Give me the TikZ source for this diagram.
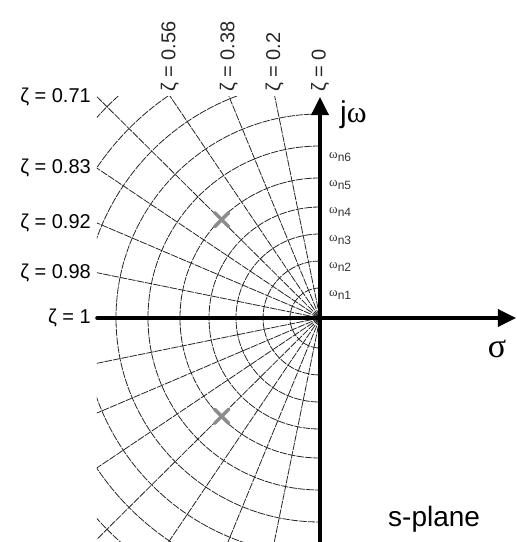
\documentclass[tikz,border=0pt]{standalone}
\usepackage{fontspec}
\setmainfont{Liberation Sans}
\newfontfamily\greekserif{Liberation Serif}
\usetikzlibrary{arrows.meta}
\tikzset{
  gridline/.style={line width=0.8pt,black!85,dash pattern=on 7pt off 1.5pt},
  axisline/.style={line width=3.5pt,-{Triangle[length=18pt,width=17pt]}},
  zetalabel/.style={font=\fontsize{20}{20}\selectfont,inner sep=2pt},
  wnlabel/.style={font=\fontsize{13}{13}\selectfont,text=black!80,anchor=west,inner sep=1pt},
  polemark/.style={line width=3.5pt,black!45}
}
\begin{document}
\begin{tikzpicture}[x=1pt,y=1pt,line cap=round,line join=round]
	\useasboundingbox (-320,-224) rectangle (197,318);
	% circles of constant omega_n, lines of constant zeta
	\begin{scope}
		\clip (-223,-224) rectangle (0,222);
		\foreach \r in {30,57,84,111,140,172,204,237,269,300}
			\draw[gridline] (0,\r) arc (90:270:\r);
		\foreach \z in {0.98,0.92,0.83,0.71,0.56,0.38,0.2}
			\draw[gridline] ({180-acos(\z)}:340) -- (0,0) -- ({180+acos(\z)}:340);
	\end{scope}
	% axes
	\draw[axisline] (-223,0) -- (196,0);
	\draw[axisline] (0,-226) -- (0,221);
	% poles
	\foreach \p in {135,225}
		\draw[polemark] (\p:139) ++(-7,-7) -- ++(14,14) ++(-14,0) -- ++(14,-14);
	% zeta labels
	\foreach \z [count=\i] in {1,0.98,0.92,0.83,0.71}
		\node[zetalabel,anchor=east] (zl\i) at (-227,{223*sqrt(1-\z*\z)/\z}) {ζ = \z};
	\foreach \z [count=\i] in {0.56,0.38,0.2,0}
		\node[zetalabel,rotate=90,anchor=west,text=black!85] (zt\i) at ({-222*\z/sqrt(1-\z*\z)},224) {ζ = \z};
	% omega_n labels
	\foreach \k in {1,...,6}
		\node[wnlabel] (wn\k) at (8,{23+27.6*(\k-1)}) {{\greekserif ω}\raisebox{-3pt}{\fontsize{12}{12}\selectfont n\k}};
	\node[anchor=base west,inner sep=0,font=\fontsize{30}{30}\selectfont] (jw) at (20,196) {j\greekserif ω};
	\node[inner sep=0,font=\fontsize{34}{34}\selectfont\greekserif] (sg) at (177,-31) {σ};
	\node[anchor=base west,inner sep=0,font=\fontsize{28}{28}\selectfont] (sp) at (68,-208) {s-plane};
\end{tikzpicture}
\end{document}
